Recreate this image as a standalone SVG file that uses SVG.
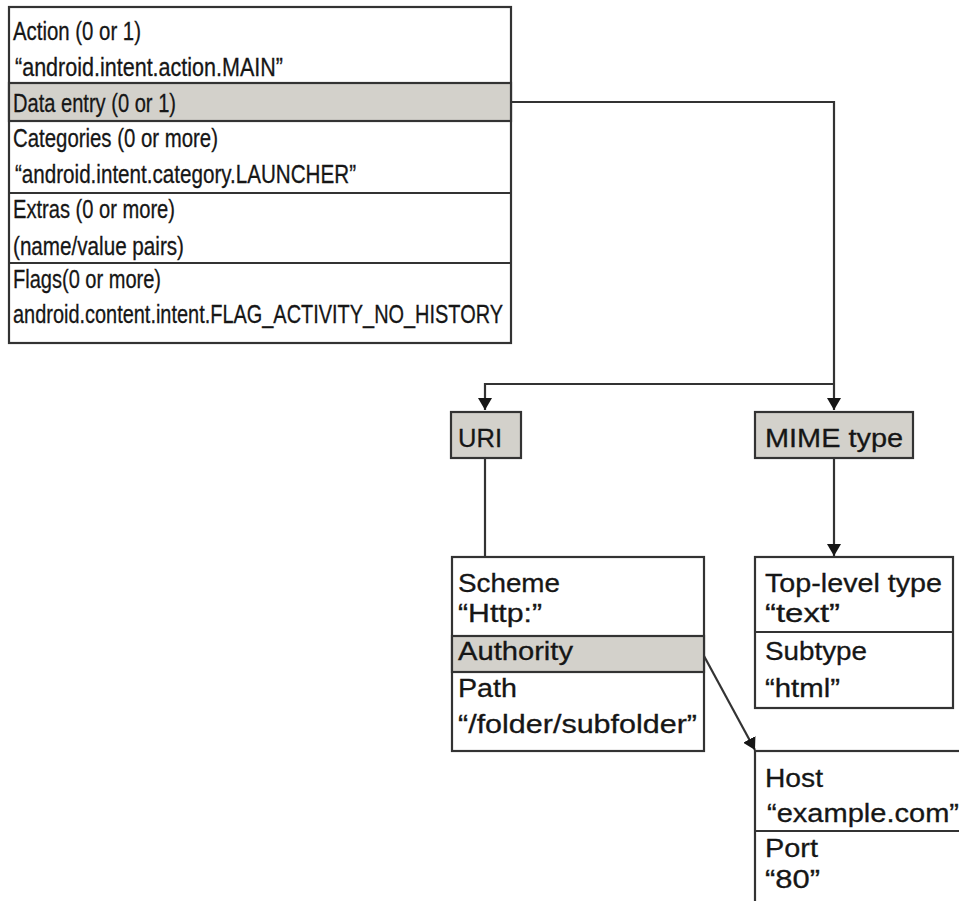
<svg xmlns="http://www.w3.org/2000/svg" width="959" height="901" viewBox="0 0 959 901">
<defs>
<style>
.box{fill:#fff;stroke:#333;stroke-width:2.2}
.hl{fill:#d3d1cb;stroke:#333;stroke-width:2.2}
.ln{fill:none;stroke:#333;stroke-width:2.2}
text{font-family:"Liberation Sans Narrow","Liberation Sans",Arial,sans-serif;font-size:26px;fill:#161616;stroke:#161616;stroke-width:0.3}
</style>
<marker id="arr" viewBox="0 0 12 14" refX="12" refY="7" markerWidth="12" markerHeight="14" markerUnits="userSpaceOnUse" orient="auto">
<path d="M0,0 L12,7 L0,14 Z" fill="#161616"/>
</marker>
</defs>
<rect width="959" height="901" fill="#fff"/>
<g id="connectors">
<polyline class="ln" points="511,102 834,102 834,410" marker-end="url(#arr)"/>
<polyline class="ln" points="834,384 485,384 485,410" marker-end="url(#arr)"/>
<line class="ln" x1="485" y1="458" x2="485" y2="557"/>
<line class="ln" x1="834" y1="458" x2="834" y2="556" marker-end="url(#arr)"/>
<line class="ln" x1="704" y1="656" x2="755" y2="750" marker-end="url(#arr)"/>
</g>
<g id="intent">
<rect class="box" x="9" y="7" width="502" height="336"/>
<rect class="hl" x="9" y="83" width="502" height="38"/>
<line class="ln" x1="9" y1="193" x2="511" y2="193"/>
<line class="ln" x1="9" y1="263" x2="511" y2="263"/>
<text x="13" y="40" textLength="128" lengthAdjust="spacingAndGlyphs">Action (0 or 1)</text>
<text x="15" y="76" textLength="268" lengthAdjust="spacingAndGlyphs">“android.intent.action.MAIN”</text>
<text x="13" y="112" textLength="163" lengthAdjust="spacingAndGlyphs">Data entry (0 or 1)</text>
<text x="13" y="147" textLength="205" lengthAdjust="spacingAndGlyphs">Categories (0 or more)</text>
<text x="15" y="183" textLength="341" lengthAdjust="spacingAndGlyphs">“android.intent.category.LAUNCHER”</text>
<text x="13" y="218" textLength="162" lengthAdjust="spacingAndGlyphs">Extras (0 or more)</text>
<text x="13" y="255" textLength="171" lengthAdjust="spacingAndGlyphs">(name/value pairs)</text>
<text x="13" y="288" textLength="148" lengthAdjust="spacingAndGlyphs">Flags(0 or more)</text>
<text x="13" y="323" textLength="490" lengthAdjust="spacingAndGlyphs">android.content.intent.FLAG_ACTIVITY_NO_HISTORY</text>
</g>
<g id="uri">
<rect class="hl" x="451" y="412" width="70" height="46"/>
<text x="458" y="447" textLength="44" lengthAdjust="spacingAndGlyphs">URI</text>
</g>
<g id="mime">
<rect class="hl" x="755" y="412" width="158" height="46"/>
<text x="765" y="447" textLength="138" lengthAdjust="spacingAndGlyphs">MIME type</text>
</g>
<g id="uri-parts">
<rect class="box" x="452" y="557" width="252" height="194"/>
<rect class="hl" x="452" y="636" width="252" height="36"/>
<text x="458" y="592" textLength="102" lengthAdjust="spacingAndGlyphs">Scheme</text>
<text x="458" y="622" textLength="84" lengthAdjust="spacingAndGlyphs">“Http:”</text>
<text x="458" y="660" textLength="115" lengthAdjust="spacingAndGlyphs">Authority</text>
<text x="458" y="697" textLength="59" lengthAdjust="spacingAndGlyphs">Path</text>
<text x="458" y="733" textLength="239" lengthAdjust="spacingAndGlyphs">“/folder/subfolder”</text>
</g>
<g id="mime-parts">
<rect class="box" x="755" y="557" width="198" height="151"/>
<line class="ln" x1="755" y1="632" x2="953" y2="632"/>
<text x="765" y="592" textLength="177" lengthAdjust="spacingAndGlyphs">Top-level type</text>
<text x="765" y="622" textLength="75" lengthAdjust="spacingAndGlyphs">“text”</text>
<text x="765" y="660" textLength="102" lengthAdjust="spacingAndGlyphs">Subtype</text>
<text x="765" y="697" textLength="75" lengthAdjust="spacingAndGlyphs">“html”</text>
</g>
<g id="authority-parts">
<rect class="box" x="755" y="751" width="240" height="180"/>
<line class="ln" x1="755" y1="831" x2="995" y2="831"/>
<text x="765" y="787" textLength="58" lengthAdjust="spacingAndGlyphs">Host</text>
<text x="767" y="822" textLength="192" lengthAdjust="spacingAndGlyphs">“example.com”</text>
<text x="765" y="857" textLength="53" lengthAdjust="spacingAndGlyphs">Port</text>
<text x="765" y="888" textLength="55" lengthAdjust="spacingAndGlyphs">“80”</text>
</g>
</svg>
